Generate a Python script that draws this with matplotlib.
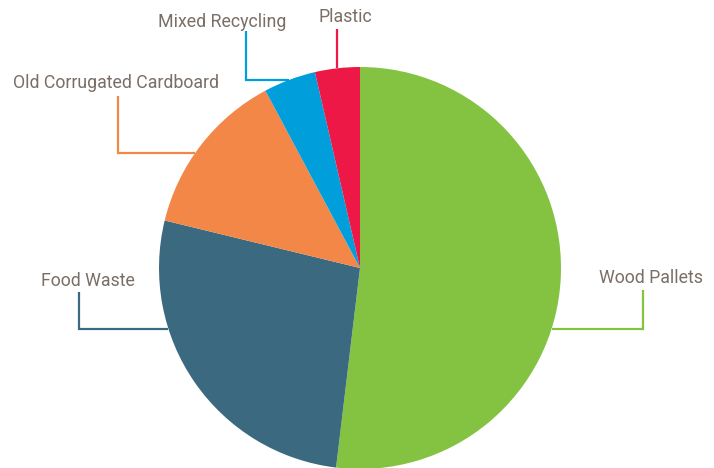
import numpy as np
import matplotlib.pyplot as plt

labels = ['Wood Pallets', 'Food Waste', 'Old Corrugated Cardboard', 'Mixed Recycling', 'Plastic']
shares = [51.9, 26.9, 13.4, 4.2, 3.6]
colors = ['#84C341', '#3B6A80', '#F38748', '#009FDB', '#ED1846']

W, H = 714, 468
cx, cy, r = 360, H - 268, 201

fig = plt.figure(figsize=(W / 100, H / 100), dpi=100)
ax = fig.add_axes([0, 0, 1, 1])
ax.pie(shares, colors=colors, startangle=90, counterclock=False,
       center=(cx, cy), radius=r, frame=True,
       wedgeprops=dict(linewidth=0))
ax.set_xlim(0, W)
ax.set_ylim(0, H)
ax.set_aspect('equal')
ax.axis('off')

txt = '#7A6E66'
fs = 12.8

def edge_x(y, side):
    return cx + side * np.sqrt(r ** 2 - (y - cy) ** 2)

# (horizontal y, elbow x, top of vertical, side, label x, label y) in pixel coords from top
leaders = [
    (329, 643, 290, 1, 651, 278),
    (329, 79, 292, -1, 88, 281),
    (153, 118, 96, -1, 116, 83),
    (80, 246, 31, -1, 222, 22),
]
for i, (hy, ex, ty, side, lx, ly) in enumerate(leaders):
    y0 = H - hy
    x0 = edge_x(y0, side)
    ax.plot([x0, ex, ex], [y0, y0, H - ty], color=colors[i], lw=1.6,
            solid_capstyle='butt', solid_joinstyle='miter')
    ax.text(lx, H - ly, labels[i], color=txt, fontsize=fs, family='Roboto',
            ha='center', va='center')

# plastic: straight vertical line
px = 337
py = cy + np.sqrt(r ** 2 - (px - cx) ** 2)
ax.plot([px, px], [py, H - 29], color=colors[4], lw=1.6, solid_capstyle='butt')
ax.text(345, H - 17, labels[4], color=txt, fontsize=fs, family='Roboto',
        ha='center', va='center')

fig.savefig('out.png', dpi=100)
